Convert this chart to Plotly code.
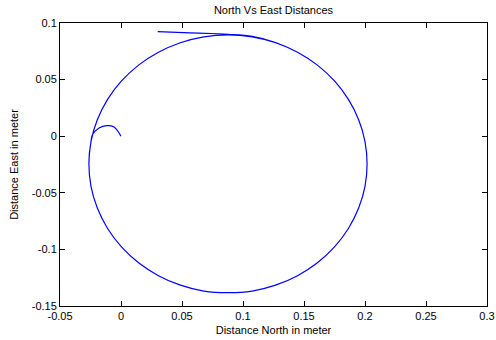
import plotly.graph_objects as go

# Trajectory samples: north (x) and east (y) distances in metres
hump_north = [0.0, -0.0057, -0.0117, -0.018, -0.0235]
hump_east = [0.0, 0.0081, 0.0093, 0.0072, 0.001]

lap1_north = [
    -0.0246, -0.0263, -0.0246, -0.0194, -0.011, 0.0004, 0.0144, 0.0307,
    0.0487, 0.0679, 0.0877, 0.1075, 0.1267, 0.1447, 0.161, 0.175, 0.1864,
    0.1948, 0.2, 0.2017, 0.2, 0.1948, 0.1864, 0.175, 0.161, 0.1447, 0.1267,
    0.1075, 0.0877, 0.0679, 0.0487, 0.0307, 0.0144, 0.0004, -0.011, -0.0194,
]
lap1_east = [
    -0.0047, -0.0245, -0.0443, -0.0635, -0.0815, -0.0978, -0.1118, -0.1232,
    -0.1316, -0.1368, -0.1382, -0.1368, -0.1316, -0.1232, -0.1118, -0.0978,
    -0.0815, -0.0635, -0.0443, -0.0245, -0.0047, 0.0145, 0.0325, 0.0488,
    0.0628, 0.0742, 0.0826, 0.0878, 0.0895, 0.0878, 0.0826, 0.0742, 0.0628,
    0.0488, 0.0325, 0.0145,
]

lap2_north = [
    -0.0246, -0.0263, -0.0246, -0.0194, -0.011, 0.0004, 0.0144, 0.0307,
    0.0487, 0.0679, 0.0877, 0.1075, 0.1267, 0.1447, 0.161, 0.175, 0.1864,
    0.1948, 0.2, 0.2017, 0.2, 0.1948, 0.1864, 0.175, 0.161, 0.1447, 0.1267,
    0.1075, 0.0877, 0.0795, 0.0566, 0.0301,
]
lap2_east = [
    -0.0047, -0.0245, -0.0443, -0.0635, -0.0815, -0.0978, -0.1118, -0.1232,
    -0.1316, -0.1368, -0.1382, -0.1368, -0.1316, -0.1232, -0.1118, -0.0978,
    -0.0815, -0.0635, -0.0443, -0.0245, -0.0047, 0.0145, 0.0325, 0.0488,
    0.0628, 0.0742, 0.0828, 0.0882, 0.09, 0.0905, 0.0913, 0.0923,
]

north = hump_north + lap1_north + lap2_north
east = hump_east + lap1_east + lap2_east

x_ticks = [-0.05, 0, 0.05, 0.1, 0.15, 0.2, 0.25, 0.3]
x_labels = ["-0.05", "0", "0.05", "0.1", "0.15", "0.2", "0.25", "0.3"]
y_ticks = [-0.15, -0.1, -0.05, 0, 0.05, 0.1]
y_labels = ["-0.15", "-0.1", "-0.05", "0", "0.05", "0.1"]

font = "Liberation Sans, Arial, sans-serif"

fig = go.Figure(
    go.Scatter(
        x=north, y=east, mode="lines",
        line=dict(color="#0000ff", width=1.2, shape="spline", smoothing=1.0),
        hoverinfo="skip",
    )
)

axis_common = dict(
    showgrid=False, zeroline=False, showline=True, linecolor="black",
    linewidth=1, mirror="ticks", ticks="inside", ticklen=5,
    tickcolor="black", tickwidth=1, automargin=False,
    tickfont=dict(family=font, size=11, color="black"),
)

fig.update_layout(
    width=496, height=340,
    margin=dict(l=60, r=9, t=23, b=34),
    paper_bgcolor="white", plot_bgcolor="white",
    showlegend=False,
    title=dict(
        text="North Vs East Distances",
        x=(60 + 487) / 2 / 496, xanchor="center",
        y=1 - 10 / 340, yanchor="middle",
        font=dict(family=font, size=11, color="black"),
    ),
    xaxis=dict(
        range=[-0.05, 0.3], tickvals=x_ticks, ticktext=x_labels,
        title=dict(text="Distance North in meter", standoff=5,
                   font=dict(family=font, size=11, color="black")),
        **axis_common,
    ),
    yaxis=dict(
        range=[-0.15, 0.1], tickvals=y_ticks, ticktext=y_labels,
        title=dict(text="Distance East in meter", standoff=10,
                   font=dict(family=font, size=11, color="black")),
        **axis_common,
    ),
)

fig.write_html("out.html")
